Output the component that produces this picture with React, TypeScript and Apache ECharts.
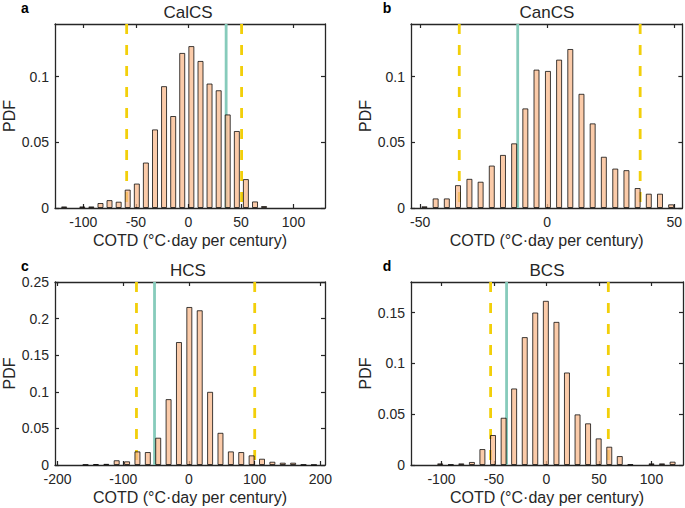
import React, { useEffect, useRef } from "react";
import * as echarts from "echarts";

// ---- Data ----
const calcsX = [-118.3, -101, -92.4, -83.7, -75.1, -66.4, -57.8, -49.1, -40.5, -31.8, -23.2, -14.5, -5.9, 2.8, 11.5, 20.1, 28.8, 37.4, 46.1, 54.7, 63.4, 72];
const calcsPdf = [0.0012, 0.0012, 0.0012, 0.0038, 0.006, 0.0048, 0.014, 0.0186, 0.0346, 0.0598, 0.0927, 0.07, 0.118, 0.1232, 0.1119, 0.0947, 0.0896, 0.0712, 0.0586, 0.022, 0.005, 0.0015];

const cancsX = [-48.3, -43.9, -39.5, -35.1, -30.6, -26.2, -21.8, -17.4, -13, -8.6, -4.2, 0.3, 4.7, 9.1, 13.5, 17.9, 22.3, 26.8, 31.2, 35.6, 40, 44.4, 48.8];
const cancsPdf = [0.0013, 0.0073, 0.0073, 0.0174, 0.0222, 0.02, 0.0323, 0.0404, 0.0492, 0.0758, 0.1053, 0.1043, 0.1129, 0.121, 0.0869, 0.0644, 0.039, 0.03, 0.0288, 0.0152, 0.0109, 0.0109, 0.0028];

const hcsX = [-157.5, -141.7, -125.9, -110.1, -94.3, -78.5, -62.7, -46.9, -31.1, -15.3, 0.5, 16.3, 32.1, 47.9, 63.7, 79.5, 95.3, 111.1, 126.9, 142.7, 158.5, 174.3, 190.1];
const hcsPdf = [0.0006, 0.0012, 0.0016, 0.0065, 0.005, 0.0186, 0.0177, 0.0373, 0.09, 0.168, 0.2159, 0.2114, 0.1, 0.044, 0.0186, 0.0177, 0.0132, 0.0086, 0.0045, 0.0032, 0.0032, 0.0006, 0.0004];

const bcsX = [-101.2, -91.1, -81.1, -71, -61, -50.9, -40.8, -30.8, -20.7, -10.7, -0.6, 9.5, 19.5, 29.6, 39.6, 49.7, 59.8, 69.8, 79.9, 100, 110, 120.1];
const bcsPdf = [0.0016, 0.0005, 0.0016, 0.003, 0.0157, 0.0295, 0.0465, 0.0753, 0.1258, 0.15, 0.1615, 0.1408, 0.091, 0.0498, 0.041, 0.0262, 0.018, 0.0088, 0.0006, 0.0016, 0.0016, 0.0033];

const panelXs = [calcsX, cancsX, hcsX, bcsX];
const panelPdfs = [calcsPdf, cancsPdf, hcsPdf, bcsPdf];
const titles = ["CalCS", "CanCS", "HCS", "BCS"];
const letters = ["a", "b", "c", "d"];
const xMins = [-127, -53.6, -204, -129];
const xMaxs = [130, 53.2, 207, 130];
const xTickValues = [
  [-100, -50, 0, 50, 100],
  [-50, 0, 50],
  [-200, -100, 0, 100, 200],
  [-100, -50, 0, 50, 100],
];
const yMaxs = [0.14, 0.14, 0.25, 0.18];
const yTickValues = [
  [0, 0.05, 0.1],
  [0, 0.05, 0.1],
  [0, 0.05, 0.1, 0.15, 0.2, 0.25],
  [0, 0.05, 0.1, 0.15],
];
const lowerBounds = [-58.8, -34.6, -80, -53.2];
const upperBounds = [50.6, 36.6, 100, 58.9];
const observed = [35.9, -11.6, -52.5, -38];
const xLabel = "COTD (°C·day per century)";
const yLabel = "PDF";

// ---- Layout / styles ----
const FONT = "'Liberation Sans', Arial, Helvetica, sans-serif";
const INK = "#262626";
const BAR_FILL = "rgb(250,186,140)";
const YELLOW = "#F2CF0A";
const GREEN = "#86CBBB";
const grids = [
  { left: 51, top: 24, width: 274, height: 184 },
  { left: 411, top: 24, width: 272, height: 184 },
  { left: 51, top: 282, width: 274, height: 183 },
  { left: 411, top: 282, width: 272, height: 183 },
];

function fmt(v: number) {
  return String(Math.round(v * 1000) / 1000);
}

function buildOption() {
  const xAxis: any[] = [];
  const yAxis: any[] = [];
  const series: any[] = [];
  const graphic: any[] = [];
  const axisLine = { show: true, onZero: false, lineStyle: { color: INK, width: 1.3 } };

  grids.forEach((g, i) => {
    xAxis.push({
      type: "value",
      gridIndex: i,
      position: "bottom",
      min: xMins[i],
      max: xMaxs[i],
      axisLine,
      axisTick: { show: true, inside: true, length: 4, customValues: xTickValues[i], lineStyle: { color: INK, width: 1.2 } },
      axisLabel: { show: true, customValues: xTickValues[i], color: INK, fontSize: 14, fontFamily: FONT, margin: 7, formatter: (v: number) => fmt(v) },
      splitLine: { show: false },
      name: xLabel,
      nameLocation: "middle",
      nameGap: 24,
      nameTextStyle: { color: INK, fontSize: 16, fontFamily: FONT },
    });
    xAxis.push({
      type: "value",
      gridIndex: i,
      position: "top",
      min: xMins[i],
      max: xMaxs[i],
      axisLine,
      axisTick: { show: true, inside: true, length: 4, customValues: xTickValues[i], lineStyle: { color: INK, width: 1.2 } },
      axisLabel: { show: false },
      splitLine: { show: false },
    });
    yAxis.push({
      type: "value",
      gridIndex: i,
      position: "left",
      min: 0,
      max: yMaxs[i],
      axisLine,
      axisTick: { show: true, inside: true, length: 4, customValues: yTickValues[i], lineStyle: { color: INK, width: 1.2 } },
      axisLabel: { show: true, customValues: yTickValues[i], color: INK, fontSize: 14, fontFamily: FONT, margin: 6, formatter: (v: number) => fmt(v) },
      splitLine: { show: false },
      name: yLabel,
      nameLocation: "middle",
      nameGap: 38,
      nameTextStyle: { color: INK, fontSize: 16, fontFamily: FONT },
    });
    yAxis.push({
      type: "value",
      gridIndex: i,
      position: "right",
      min: 0,
      max: yMaxs[i],
      axisLine,
      axisTick: { show: true, inside: true, length: 4, customValues: yTickValues[i], lineStyle: { color: INK, width: 1.2 } },
      axisLabel: { show: false },
      splitLine: { show: false },
    });

    const vline = (x: number, color: string, type: any, name: string) => ({
      type: "line",
      name,
      xAxisIndex: 2 * i,
      yAxisIndex: 2 * i,
      data: [[x, yMaxs[i]], [x, 0]],
      symbol: "none",
      silent: true,
      z: 1,
      lineStyle: { color, width: 2.8, type },
    });
    series.push(vline(lowerBounds[i], YELLOW, [10, 11], "lower"));
    series.push(vline(upperBounds[i], YELLOW, [10, 11], "upper"));
    series.push(vline(observed[i], GREEN, "solid", "observed"));
    series.push({
      type: "bar",
      name: titles[i],
      xAxisIndex: 2 * i,
      yAxisIndex: 2 * i,
      data: panelXs[i].map((x, k) => [x, panelPdfs[i][k]]),
      barWidth: 6,
      z: 2,
      itemStyle: { color: BAR_FILL, borderColor: "#000", borderWidth: 1, opacity: 0.75 },
    });

    graphic.push({
      type: "text",
      x: g.left + g.width / 2,
      y: g.top - 12,
      style: { text: titles[i], fill: INK, font: `17px ${FONT}`, align: "center", verticalAlign: "middle" },
    });
    graphic.push({
      type: "text",
      x: g.left - 26 + (i % 2 === 1 ? 2 : 0),
      y: g.top - 16,
      style: { text: letters[i], fill: "#000", font: `bold 14px ${FONT}`, align: "center", verticalAlign: "middle" },
    });
  });

  return {
    animation: false,
    backgroundColor: "#ffffff",
    grid: grids.map((g) => ({ ...g, containLabel: false })),
    xAxis,
    yAxis,
    series,
    graphic,
  };
}

export default function App() {
  const ref = useRef<HTMLDivElement>(null);
  useEffect(() => {
    if (!ref.current) return;
    const chart = echarts.init(ref.current, undefined, { renderer: "svg" });
    chart.setOption(buildOption() as any);
    return () => chart.dispose();
  }, []);
  return (
    <div
      ref={ref}
      style={{ position: "fixed", left: 0, top: 0, width: 685, height: 508, background: "#fff" }}
    />
  );
}
